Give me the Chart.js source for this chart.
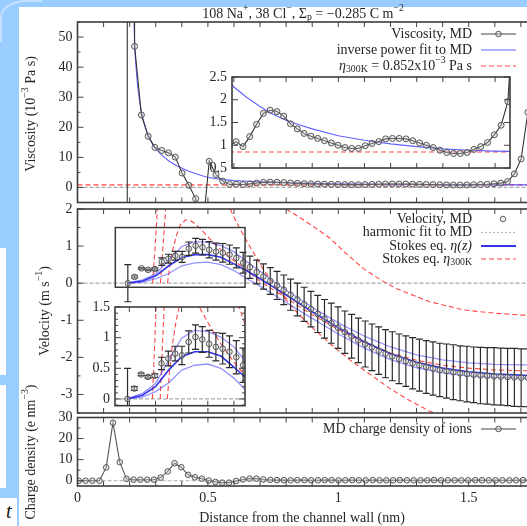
<!DOCTYPE html>
<html><head><meta charset="utf-8">
<script src="https://cdn.jsdelivr.net/npm/chart.js@4.4.0/dist/chart.umd.min.js"></script>
<style>
html,body{margin:0;padding:0;width:527px;height:526px;overflow:hidden;background:#99ccff;position:relative;}
#page{position:absolute;left:19px;top:7px;width:508px;height:519px;background:#fff;}
.strip{position:absolute;background:#fff;left:0;width:6px;}
#arc{position:absolute;left:0;top:0;width:40px;height:40px;border-top-left-radius:27px 17px;border-top:2px solid #c3e1ff;border-left:2px solid #c3e1ff;}
canvas{position:absolute;left:0;top:0;width:565px;height:526px;}
</style></head><body>
<div id="arc"></div>
<div id="page"></div>
<div class="strip" style="top:248px;height:127px"></div>
<div class="strip" style="top:385px;height:103px"></div>
<div class="strip" style="top:498px;height:28px;width:17px"><span style="font:italic 20px 'Liberation Serif';position:absolute;left:6px;top:2px;color:#111">t</span></div>
<canvas id="cVisc" width="565" height="526"></canvas>
<canvas id="cViscIn" width="565" height="526"></canvas>
<canvas id="cVel" width="565" height="526"></canvas>
<canvas id="cVelIn" width="565" height="526"></canvas>
<canvas id="cChg" width="565" height="526"></canvas>
<script>
// ---------------- DATA ----------------
const X_LABELS = [0, 0.5, 1, 1.5];
const X_RANGE = [0, 1.85];

// Viscosity (10^-3 Pa s), MD
const VISC_X = [0.167,0.193,0.219,0.245,0.271,0.297,0.323,0.349,0.375,0.401,0.427,0.453,0.479,0.505,0.531,0.557,0.583,
 0.609,0.635,0.661,0.687,0.713,0.739,0.765,0.791,0.817,0.843,0.869,0.895,0.921,0.947,0.973,0.999,1.025,1.051,1.077,1.103,
 1.129,1.155,1.181,1.207,1.233,1.259,1.285,1.311,1.337,1.363,1.389,1.415,1.441,1.467,1.493,1.519,1.545,1.571,1.597,1.623,1.649,
 1.675,1.701,1.727,1.753];
const VISC_Y = [-100000,1000,46.9,24.1,17.0,13.3,12.3,11.5,10.1,4.8,0.7,-3.7,-15,8.7,4.3,2.1,1.0,
 1.08,0.97,1.19,1.46,1.70,1.77,1.74,1.64,1.47,1.36,1.26,1.20,1.15,1.10,1.05,1.00,0.95,0.93,0.93,0.99,1.04,1.08,1.14,1.15,1.15,
 1.14,1.10,1.05,1.00,0.95,0.89,0.84,0.82,0.82,0.84,0.91,0.97,1.06,1.23,1.44,1.96,
 4.5,9.5,25,80];
// inverse power fit
const FIT_X = [0.212,0.215,0.22,0.23,0.24,0.25,0.27,0.29,0.32,0.35,0.38,0.42,0.46,0.5,0.55,0.6,0.65,0.7,0.75,0.8,0.85,0.9,1.0,1.1,1.2,1.3,1.4,1.5,1.6,1.7,1.8,1.9];
const FIT_Y = [80,60,45,34,27.5,23,17.5,14,11,8.8,7.2,5.6,4.4,3.3,2.7,2.28,2.05,1.85,1.68,1.55,1.45,1.36,1.21,1.11,1.03,0.97,0.92,0.89,0.87,0.86,0.85,0.85];
const ETA_300K = 0.852;
const VISC_TICKS = [0,10,20,30,40,50];
const VISC_INSET_TICKS = [0.5,1,1.5,2,2.5];

// Velocity (m/s), MD with error bars
const VEL_X = [0.193,0.219,0.245,0.271,0.297,0.323,0.349,0.375,0.401,0.427,0.453,0.479,0.505,0.531,0.557,0.583,
 0.609,0.635,0.661,0.687,0.713,0.739,0.765,0.791,0.817,0.843,0.869,0.895,0.921,0.947,0.973,0.999,1.025,1.051,1.077,1.103,
 1.129,1.155,1.181,1.207,1.233,1.259,1.285,1.311,1.337,1.363,1.389,1.415,1.441,1.467,1.493,1.519,1.545,1.571,1.597,1.623,1.649,
 1.675,1.701,1.727,1.753,1.779,1.805,1.831];
const VEL_Y = [0.00,0.17,0.40,0.36,0.38,0.58,0.66,0.74,0.71,0.93,1.01,0.97,0.90,0.85,0.82,0.77,0.68,0.55,
 0.43,0.30,0.18,0.06,-0.06,-0.18,-0.31,-0.44,-0.57,-0.70,-0.83,-0.96,-1.08,-1.20,-1.32,-1.43,-1.54,-1.64,
 -1.73,-1.82,-1.90,-1.97,-2.04,-2.10,-2.16,-2.21,-2.26,-2.30,-2.34,-2.37,-2.40,-2.43,-2.45,-2.47,-2.49,-2.50,
 -2.51,-2.52,-2.53,-2.54,-2.55,-2.55,-2.55,-2.56,-2.56,-2.56];
const VEL_ERR = [0.50,0.03,0.02,0.02,0.03,0.10,0.12,0.12,0.15,0.18,0.20,0.21,0.22,0.23,0.25,0.26,0.27,0.28,0.30,0.32,
 0.34,0.36,0.38,0.40,0.42,0.44,0.46,0.48,0.50,0.52,0.54,0.56,0.57,0.59,0.60,0.62,0.63,0.64,0.65,0.66,
 0.67,0.68,0.69,0.70,0.71,0.72,0.72,0.73,0.74,0.74,0.75,0.75,0.76,0.76,0.77,0.77,0.77,0.78,0.78,0.78,0.78,0.78,0.78,0.78];
// Stokes eq. with eta(z): central and two bounding solutions
const STOKES_X = [0.19,0.25,0.3,0.35,0.4,0.45,0.5,0.55,0.6,0.65,0.7,0.75,0.8,0.9,1.0,1.1,1.2,1.3,1.4,1.5,1.6,1.7,1.8,1.9];
const STOKES_MID  = [0,0.06,0.2,0.47,0.69,0.77,0.77,0.7,0.52,0.33,0.12,-0.1,-0.32,-0.77,-1.2,-1.58,-1.9,-2.13,-2.29,-2.39,-2.45,-2.48,-2.49,-2.5];
const STOKES_HIGH = [0,0.09,0.25,0.63,0.99,1.12,1.1,1.01,0.85,0.58,0.32,0.06,-0.19,-0.65,-1.07,-1.43,-1.72,-1.93,-2.07,-2.15,-2.19,-2.2,-2.21,-2.21];
const STOKES_LOW  = [0,0.03,0.12,0.26,0.47,0.55,0.57,0.5,0.34,0.12,-0.08,-0.3,-0.52,-0.95,-1.37,-1.75,-2.06,-2.28,-2.42,-2.5,-2.54,-2.56,-2.57,-2.57];
// Stokes eq. with eta_300K (three solutions)
const STOKES300_A = [[0.288,0],[0.296,0.8],[0.303,1.6],[0.31,2.4],[0.4,3.5],[0.55,3.2],[0.7,2.5],[0.8,2.0],[0.85,1.78],[0.9,1.55],[0.967,1.22],[1.03,0.8],[1.095,0.4],[1.16,0.1],[1.22,-0.14],[1.35,-0.5],[1.48,-0.72],[1.6,-0.81],[1.705,-0.86],[1.85,-0.88]];
const STOKES300_B = [[0.318,0],[0.326,0.8],[0.334,1.6],[0.342,2.4],[0.4,4],[0.5,3.2],[0.585,2.0],[0.62,1.5],[0.66,1.0],[0.71,0.4],[0.76,-0.1],[0.8,-0.45],[0.85,-0.85],[0.9,-1.2],[0.98,-1.7],[1.05,-2.1],[1.11,-2.4],[1.2,-2.85],[1.27,-3.15],[1.35,-3.45],[1.45,-3.7],[1.6,-3.9]];
const STOKES300_C = [[0.345,0],[0.355,0.5],[0.365,0.9],[0.38,1.3],[0.395,1.58],[0.415,1.71],[0.44,1.66],[0.47,1.48],[0.5,1.25],[0.55,0.9],[0.6,0.6],[0.65,0.35],[0.7,0.05],[0.8,-0.4],[0.9,-0.85],[1.0,-1.25],[1.1,-1.6],[1.2,-1.88],[1.3,-2.08],[1.4,-2.21],[1.5,-2.29],[1.6,-2.34],[1.7,-2.36],[1.85,-2.37]];
const VEL_TICKS = [-3,-2,-1,0,1,2];
const VEL_INSET_TICKS = [0,0.5,1,1.5];

// Charge density (e nm^-3)
const CHG_X = [0.005,0.031,0.057,0.084,0.110,0.136,0.162,0.188,0.215,0.241,0.267,0.293,0.319,0.346,0.372,0.398,0.424,0.450,
 0.477,0.503,0.529,0.555,0.581,0.608,0.634,0.660,0.686,0.712,0.739,0.765,0.791,0.817,0.843,0.870,0.896,0.922,0.948,0.974,
 1.001,1.027,1.053,1.079,1.105,1.132,1.158,1.184,1.210,1.236,1.263,1.289,1.315,1.341,1.367,1.394,1.420,1.446,1.472,1.498,
 1.525,1.551,1.577,1.603,1.629,1.656,1.682,1.708,1.734,1.760,1.787,1.813,1.839];
const CHG_Y = [0,0,0,0,6.3,27.5,8.8,0.9,0.5,0.5,0.5,0.5,1.5,4.4,8.3,6.4,2.8,1.6,
 1.0,0.1,-0.6,-0.9,-0.9,-0.1,0.6,1.0,1.0,0.6,0.4,0.3,0.3,0.2,0.3,0.3,0.2,0.2,0.3,0.3,
 0.2,0.2,0.3,0.2,0.2,0.3,0.2,0.2,0.2,0.3,0.2,0.2,0.2,0.2,0.3,0.2,0.2,0.2,0.2,0.2,
 0.3,0.2,0.2,0.2,0.2,0.2,0.2,0.3,0.2,0.2,0.2,0.2,0.2];
const CHG_TICKS = [0,10,20,30];

// ---------------- DRAWING ----------------
const FONT = "'Liberation Serif','Times New Roman',serif";
const TXT = '#262626';
const W = 565, H = 526;
Chart.defaults.font.family = FONT;

function pts(xs, ys){ return xs.map((x,i)=>({x:x, y:ys[i]})); }
function pairs(a){ return a.map(p=>({x:p[0], y:p[1]})); }
function fontFor(s,size){ const sz = s.s ? size*0.7 : size; return (s.i?'italic ':'')+sz.toFixed(1)+'px '+FONT; }
function richWidth(ctx,segs,size){ let w=0; for(const s of segs){ ctx.font=fontFor(s,size); w+=ctx.measureText(s.t).width; } return w; }
function drawRich(ctx,segs,x,y,align,size,color){
  ctx.save(); ctx.fillStyle=color||TXT; ctx.textBaseline='middle'; ctx.textAlign='left';
  const w=richWidth(ctx,segs,size);
  let cx = align==='right' ? x-w : align==='center' ? x-w/2 : x;
  for(const s of segs){ ctx.font=fontFor(s,size); const dy = s.s==='sup' ? -size*0.38 : s.s==='sub' ? size*0.28 : 0;
    ctx.fillText(s.t,cx,y+dy); cx+=ctx.measureText(s.t).width; }
  ctx.restore();
}
function drawRot(ctx,segs,x,y,size){ ctx.save(); ctx.translate(x,y); ctx.rotate(-Math.PI/2); drawRich(ctx,segs,0,0,'center',size); ctx.restore(); }
function circle(ctx,x,y,r,stroke){ ctx.beginPath(); ctx.arc(x,y,r,0,Math.PI*2); ctx.fillStyle='rgba(200,200,200,0.35)'; ctx.fill(); ctx.strokeStyle=stroke||'#555'; ctx.lineWidth=1; ctx.stroke(); }

function lineDS(data,color,width,dash){ return {data:data, showLine:true, borderColor:color, borderWidth:width, borderDash:dash||[], pointRadius:0, fill:false, tension:0}; }
function mdDS(data,lineColor,r){ return {data:data, showLine:!!lineColor, borderColor:lineColor||'#555', borderWidth:1.1, pointRadius:r||3, pointBorderColor:'#555', pointBackgroundColor:'rgba(200,200,200,0.35)', pointBorderWidth:1, tension:0}; }

function deco(o){
  return {
    id:'deco',
    beforeDatasetsDraw(chart){
      const {ctx, chartArea:a, scales:{x,y}} = chart;
      ctx.save();
      if(o.fill){ ctx.fillStyle='#fff'; ctx.fillRect(a.left,a.top,a.right-a.left,a.bottom-a.top); }
      if(o.zero){
        ctx.beginPath(); ctx.rect(a.left,a.top,a.right-a.left,a.bottom-a.top); ctx.clip();
        const py=y.getPixelForValue(0);
        ctx.strokeStyle='#aaaaaa'; ctx.lineWidth=1.2; ctx.setLineDash([4,2]);
        ctx.beginPath(); ctx.moveTo(a.left,py); ctx.lineTo(a.right,py); ctx.stroke();
      }
      ctx.restore();
    },
    beforeDatasetDraw(chart,args){
      if(!o.errors || args.index!==0) return;
      const {ctx, chartArea:a, scales:{x,y}} = chart;
      ctx.save(); ctx.beginPath(); ctx.rect(a.left,a.top,a.right-a.left,a.bottom-a.top); ctx.clip();
      ctx.strokeStyle='#2a2a2a'; ctx.lineWidth=1.2;
      o.errors.x.forEach((xv,i)=>{
        const px=x.getPixelForValue(xv), y1=y.getPixelForValue(o.errors.y[i]-o.errors.e[i]), y2=y.getPixelForValue(o.errors.y[i]+o.errors.e[i]);
        ctx.beginPath(); ctx.moveTo(px,y1); ctx.lineTo(px,y2);
        ctx.moveTo(px-3.5,y1); ctx.lineTo(px+3.5,y1); ctx.moveTo(px-3.5,y2); ctx.lineTo(px+3.5,y2); ctx.stroke();
      });
      ctx.restore();
    },
    afterDatasetsDraw(chart){
      const {ctx, chartArea:a, scales:{x,y}} = chart;
      ctx.save();
      ctx.setLineDash([]); ctx.strokeStyle='#444'; ctx.lineWidth=1;
      const xs=x.min, xe=x.max;
      for(let k=Math.ceil(xs*10-1e-6); k/10<=xe+1e-9; k++){
        const px=x.getPixelForValue(k/10), len=5;
        ctx.beginPath(); ctx.moveTo(px,a.bottom); ctx.lineTo(px,a.bottom-len); ctx.moveTo(px,a.top); ctx.lineTo(px,a.top+len); ctx.stroke();
      }
      const st=o.yMinor;
      for(let k=Math.ceil(y.min/st-1e-6); k*st<=y.max+1e-9; k++){
        const v=k*st, major=o.yTicks.some(t=>Math.abs(t-v)<1e-6), len=major?6:3, py=y.getPixelForValue(v);
        ctx.beginPath(); ctx.moveTo(a.left,py); ctx.lineTo(a.left+len,py);
        if(o.rightTicks){ ctx.moveTo(a.right,py); ctx.lineTo(a.right-len,py); }
        ctx.stroke();
      }
      ctx.strokeStyle='#3c3c3c'; ctx.lineWidth=1.6;
      ctx.strokeRect(a.left,a.top,a.right-a.left,a.bottom-a.top);
      if(o.box){
        const b=o.box; ctx.lineWidth=1.5; ctx.strokeStyle='#3c3c3c';
        const l=x.getPixelForValue(b[0]), r=x.getPixelForValue(b[1]), t=y.getPixelForValue(b[3]), bt=y.getPixelForValue(b[2]);
        ctx.strokeRect(l,t,r-l,bt-t);
      }
      ctx.fillStyle=TXT; ctx.font='14px '+FONT; ctx.textBaseline='middle'; ctx.textAlign='right';
      o.yTicks.forEach(v=>{ ctx.fillText(String(v), a.left-5, y.getPixelForValue(v)); });
      if(o.xLabels){ ctx.textAlign='center'; o.xLabels.forEach(v=>{ ctx.fillText(String(v), x.getPixelForValue(v), a.bottom+12); }); }
      (o.legend||[]).forEach(L=>{
        drawRich(ctx,L.segs,472,L.y,'right',14);
        ctx.save();
        if(L.kind==='linept'){ ctx.strokeStyle='#444'; ctx.lineWidth=1; ctx.beginPath(); ctx.moveTo(481,L.y); ctx.lineTo(516,L.y); ctx.stroke(); circle(ctx,498.5,L.y,2.8); }
        else if(L.kind==='pt'){ circle(ctx,503,L.y,2.8,'#666'); }
        else { ctx.strokeStyle=L.color; ctx.lineWidth=L.width||1; ctx.setLineDash(L.dash||[]); ctx.beginPath(); ctx.moveTo(481,L.y); ctx.lineTo(516,L.y); ctx.stroke(); }
        ctx.restore();
      });
      if(o.extra) o.extra(ctx);
      ctx.restore();
    }
  };
}

function makeChart(id, rect, xr, yr, datasets, opts){
  return new Chart(document.getElementById(id), {
    type:'scatter',
    data:{datasets:datasets},
    options:{
      responsive:false, animation:false, devicePixelRatio:1, events:[],
      layout:{padding:{left:rect[0], top:rect[1], right:W-rect[2], bottom:H-rect[3]}},
      scales:{ x:{type:'linear', display:false, min:xr[0], max:xr[1]}, y:{type:'linear', display:false, min:yr[0], max:yr[1]} },
      plugins:{legend:{display:false}, tooltip:{enabled:false}}
    },
    plugins:[deco(opts)]
  });
}

const BLUE_FIT='rgba(70,70,255,0.85)', BLUE_MID='rgba(30,30,230,0.9)', BLUE_SIDE='rgba(60,60,255,0.55)', RED='rgba(255,50,50,0.9)';
const eta300Line = [{x:X_RANGE[0], y:ETA_300K},{x:X_RANGE[1], y:ETA_300K}];

makeChart('cVisc',[77.5,22,561,202.5],X_RANGE,[-5,55],[
  mdDS(pts(VISC_X,VISC_Y),'#333',3),
  lineDS(pts(FIT_X,FIT_Y),BLUE_FIT,1.1),
  lineDS(eta300Line,RED,1.2,[5,3])
],{zero:true, yTicks:VISC_TICKS, yMinor:5,
  legend:[
    {segs:[{t:'Viscosity, MD'}], y:34, kind:'linept'},
    {segs:[{t:'inverse power fit to MD'}], y:50, kind:'line', color:BLUE_FIT, width:1.2},
    {segs:[{t:'η',i:1},{t:'300K',s:'sub'},{t:' = 0.852x10'},{t:'−3',s:'sup'},{t:' Pa s'}], y:66, kind:'line', color:RED, width:1.2, dash:[5,3]}
  ],
  extra(ctx){
    drawRich(ctx,[{t:'108 Na'},{t:'+',s:'sup'},{t:', 38 Cl'},{t:'−',s:'sup'},{t:', Σ'},{t:'p',s:'sub'},{t:' = −0.285 C m'},{t:'−2',s:'sup'}],303,14,'center',14);
    drawRot(ctx,[{t:'Viscosity (10'},{t:'−3',s:'sup'},{t:' Pa s)'}],31,114,14);
  }
});

makeChart('cViscIn',[232,77,510,168],[0.593,1.657],[0.5,2.5],[
  mdDS(pts(VISC_X,VISC_Y),'#333',3),
  lineDS(pts(FIT_X,FIT_Y),BLUE_FIT,1.1),
  lineDS(eta300Line,RED,1.2,[5,3])
],{fill:true, yTicks:VISC_INSET_TICKS, yMinor:0.5, rightTicks:true});

makeChart('cVel',[77.5,209,561,413],X_RANGE,[-3.5,2],[
  mdDS(pts(VEL_X,VEL_Y),null,2.8),
  lineDS(pts(STOKES_X,STOKES_MID),BLUE_MID,1.6),
  lineDS(pts(STOKES_X,STOKES_HIGH),BLUE_SIDE,1.3),
  lineDS(pts(STOKES_X,STOKES_LOW),BLUE_SIDE,1.3),
  lineDS(pairs(STOKES300_A),RED,1.1,[5,3]),
  lineDS(pairs(STOKES300_B),RED,1.1,[5,3]),
  lineDS(pairs(STOKES300_C),RED,1.1,[5,3])
],{zero:true, yTicks:VEL_TICKS, yMinor:0.5, box:[0.145,0.6424,-0.11,1.5],
  errors:{x:VEL_X,y:VEL_Y,e:VEL_ERR},
  legend:[
    {segs:[{t:'Velocity, MD'}], y:219, kind:'pt'},
    {segs:[{t:'harmonic fit to MD'}], y:232.5, kind:'line', color:'#bbbbbb', width:1.2, dash:[2,2]},
    {segs:[{t:'Stokes eq. '},{t:'η(z)',i:1}], y:246, kind:'line', color:BLUE_MID, width:1.8},
    {segs:[{t:'Stokes eq. '},{t:'η',i:1},{t:'300K',s:'sub'}], y:259, kind:'line', color:RED, width:1.2, dash:[5,3]}
  ],
  extra(ctx){ drawRot(ctx,[{t:'Velocity (m s'},{t:'−1',s:'sup'},{t:')'}],45,311,14); }
});

makeChart('cVelIn',[115,307,245,405.7],[0.145,0.6424],[-0.11,1.5],[
  mdDS(pts(VEL_X,VEL_Y),null,2.8),
  lineDS(pts(STOKES_X,STOKES_MID),BLUE_MID,1.6),
  lineDS(pts(STOKES_X,STOKES_HIGH),BLUE_SIDE,1.3),
  lineDS(pts(STOKES_X,STOKES_LOW),BLUE_SIDE,1.3),
  lineDS(pairs(STOKES300_A),RED,1.1,[5,3]),
  lineDS(pairs(STOKES300_B),RED,1.1,[5,3]),
  lineDS(pairs(STOKES300_C),RED,1.1,[5,3])
],{fill:true, zero:true, yTicks:VEL_INSET_TICKS, yMinor:0.1, rightTicks:true, errors:{x:VEL_X,y:VEL_Y,e:VEL_ERR}});

makeChart('cChg',[77.5,417.5,561,486],X_RANGE,[-2.5,30],[
  mdDS(pts(CHG_X,CHG_Y),'#555',2.8)
],{zero:true, yTicks:CHG_TICKS, yMinor:5, xLabels:X_LABELS,
  legend:[{segs:[{t:'MD charge density of ions'}], y:429, kind:'linept'}],
  extra(ctx){
    drawRot(ctx,[{t:'Charge density (e nm'},{t:'−3',s:'sup'},{t:')'}],31,452,14);
    drawRich(ctx,[{t:'Distance from the channel wall (nm)'}],302,518,'center',14);
  }
});
</script>
</body></html>
